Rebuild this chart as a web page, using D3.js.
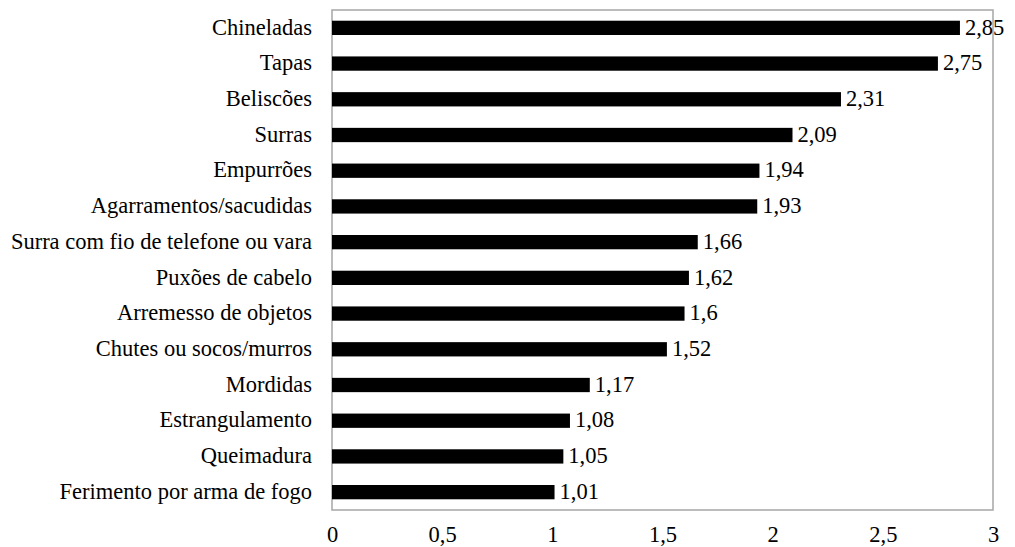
<!DOCTYPE html>
<html>
<head>
<meta charset="utf-8">
<script src="https://cdn.jsdelivr.net/npm/d3@7"></script>
<style>
  html, body { margin: 0; padding: 0; background: #fff; }
</style>
</head>
<body>
<svg id="chart" width="1015" height="547"></svg>
<script>
// Categories, top to bottom
const categories = [
  "Chineladas", "Tapas", "Beliscões", "Surras ", "Empurrões",
  "Agarramentos/sacudidas", "Surra com fio de telefone ou vara",
  "Puxões de cabelo", "Arremesso de objetos", "Chutes ou socos/murros",
  "Mordidas", "Estrangulamento", "Queimadura", "Ferimento por arma de fogo"
];
const values = [2.85, 2.75, 2.31, 2.09, 1.94, 1.93, 1.66, 1.62, 1.6, 1.52, 1.17, 1.08, 1.05, 1.01];
const valueLabels = ["2,85", "2,75", "2,31", "2,09", "1,94", "1,93", "1,66", "1,62", "1,6", "1,52", "1,17", "1,08", "1,05", "1,01"];
const tickValues = [0, 0.5, 1, 1.5, 2, 2.5, 3];
const tickLabels = ["0", "0,5", "1", "1,5", "2", "2,5", "3"];

const FONT = '"Liberation Serif", "Times New Roman", Tinos, serif';
const FONT_SIZE = "22.5px";

const svg = d3.select("#chart");
const plot = { left: 332, right: 993, top: 10, bottom: 510 };

const x = d3.scaleLinear().domain([0, 3]).range([plot.left, plot.right]);
const y = d3.scaleBand().domain(categories).range([plot.top, plot.bottom]).paddingInner(0.6).paddingOuter(0.3);

// Plot frame
svg.append("rect")
  .attr("x", plot.left).attr("y", plot.top)
  .attr("width", plot.right - plot.left).attr("height", plot.bottom - plot.top)
  .attr("fill", "none").attr("stroke", "#a6a6a6").attr("stroke-width", 1.5);

// Bars
svg.append("g").selectAll("rect")
  .data(categories)
  .join("rect")
  .attr("x", x(0))
  .attr("y", d => y(d))
  .attr("width", (d, i) => x(values[i]) - x(0))
  .attr("height", y.bandwidth())
  .attr("fill", "#000");

// Value labels
svg.append("g").selectAll("text")
  .data(categories)
  .join("text")
  .attr("x", (d, i) => x(values[i]) + 5)
  .attr("y", d => y(d) + y.bandwidth() / 2)
  .attr("dy", "0.3em")
  .style("font-family", FONT).style("font-size", FONT_SIZE).style("fill", "#000")
  .text((d, i) => valueLabels[i]);

// Category axis
const yAxis = d3.axisLeft(y).tickSize(0).tickPadding(20);
const gy = svg.append("g").attr("transform", `translate(${plot.left},0)`).call(yAxis);
gy.select(".domain").remove();
gy.selectAll("text").attr("dy", "0.3em")
  .style("font-family", FONT).style("font-size", FONT_SIZE).style("fill", "#000");

// Value axis
const xAxis = d3.axisBottom(x).tickValues(tickValues).tickSize(0).tickPadding(16)
  .tickFormat((d, i) => tickLabels[i]);
const gx = svg.append("g").attr("transform", `translate(0,${plot.bottom})`).call(xAxis);
gx.select(".domain").remove();
gx.selectAll("text").style("font-family", FONT).style("font-size", FONT_SIZE).style("fill", "#000");
</script>
</body>
</html>
